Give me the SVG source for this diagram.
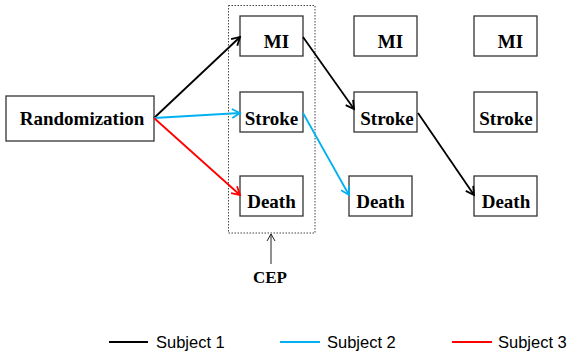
<svg xmlns="http://www.w3.org/2000/svg" width="572" height="356" viewBox="0 0 572 356">
<style>
.box{fill:#fff;stroke:#333;stroke-width:1.3}
.lbl{font-family:"Liberation Serif","Times New Roman",serif;font-weight:bold;font-size:19px;fill:#000;text-anchor:middle}
.cep{font-family:"Liberation Serif","Times New Roman",serif;font-weight:bold;font-size:17px;fill:#000;text-anchor:middle}
.leg{font-family:"Liberation Sans",Arial,sans-serif;font-size:16.5px;fill:#000}
.c{fill:none;stroke-width:1.8}
.k{stroke:#000}.b{stroke:#00B0F0}.r{stroke:#FF0000}
</style>
<defs>
<marker id="ak" markerWidth="12" markerHeight="12" refX="10" refY="6" orient="auto" markerUnits="userSpaceOnUse"><path d="M2,1.5 L10,6 L2,10.5" fill="none" stroke="#000" stroke-width="1.8"/></marker>
<marker id="ab" markerWidth="12" markerHeight="12" refX="10" refY="6" orient="auto" markerUnits="userSpaceOnUse"><path d="M2,1.5 L10,6 L2,10.5" fill="none" stroke="#00B0F0" stroke-width="1.8"/></marker>
<marker id="ar" markerWidth="12" markerHeight="12" refX="10" refY="6" orient="auto" markerUnits="userSpaceOnUse"><path d="M2,1.5 L10,6 L2,10.5" fill="none" stroke="#FF0000" stroke-width="1.8"/></marker>
<marker id="ag" markerWidth="12" markerHeight="12" refX="10" refY="6" orient="auto" markerUnits="userSpaceOnUse"><path d="M3,2 L10,6 L3,10" fill="none" stroke="#222" stroke-width="1"/></marker>
</defs>
<rect id="cep-box" x="228.5" y="5.5" width="86.5" height="227.5" fill="none" stroke="#444" stroke-width="1" stroke-dasharray="1.5,1.5"/>
<g id="randomization"><rect class="box" x="6" y="96" width="148" height="45"/><text class="lbl" x="82" y="125">Randomization</text></g>
<g id="mi1"><rect class="box" x="240" y="16" width="63" height="40"/><text class="lbl" x="276.5" y="48">MI</text></g>
<g id="stroke1"><rect class="box" x="240" y="92" width="63" height="40"/><text class="lbl" x="271.5" y="125">Stroke</text></g>
<g id="death1"><rect class="box" x="240" y="176" width="63" height="40"/><text class="lbl" x="271.5" y="208">Death</text></g>
<g id="mi2"><rect class="box" x="354" y="16" width="63" height="40"/><text class="lbl" x="390.5" y="48">MI</text></g>
<g id="stroke2"><rect class="box" x="354" y="92" width="63" height="40"/><text class="lbl" x="387" y="125">Stroke</text></g>
<g id="death2"><rect class="box" x="349" y="176" width="63" height="40"/><text class="lbl" x="380.5" y="208">Death</text></g>
<g id="mi3"><rect class="box" x="474" y="16" width="63" height="40"/><text class="lbl" x="510.5" y="48">MI</text></g>
<g id="stroke3"><rect class="box" x="474" y="92" width="63" height="40"/><text class="lbl" x="506" y="125">Stroke</text></g>
<g id="death3"><rect class="box" x="474" y="176" width="63" height="40"/><text class="lbl" x="506" y="208">Death</text></g>
<g id="cep"><text class="cep" x="270" y="283">CEP</text></g>
<g id="connectors">
<line class="c k" x1="154" y1="118" x2="240" y2="37" marker-end="url(#ak)"/>
<line class="c b" x1="154" y1="118" x2="240" y2="113" marker-end="url(#ab)"/>
<line class="c r" x1="154" y1="118" x2="240" y2="195" marker-end="url(#ar)"/>
<line class="c k" x1="303" y1="37" x2="354" y2="109" marker-end="url(#ak)"/>
<line class="c b" x1="303" y1="113" x2="349" y2="195" marker-end="url(#ab)"/>
<line class="c k" x1="418" y1="113" x2="474" y2="195" marker-end="url(#ak)"/>
<line x1="271" y1="264" x2="271" y2="234" stroke="#222" stroke-width="1" marker-end="url(#ag)"/>
</g>
<g id="legend">
<line class="c k" x1="109" y1="342" x2="148" y2="342"/><text class="leg" x="156" y="348">Subject 1</text>
<line class="c b" x1="280" y1="342" x2="320" y2="342"/><text class="leg" x="327" y="348">Subject 2</text>
<line class="c r" x1="452" y1="342" x2="492" y2="342"/><text class="leg" x="498" y="348">Subject 3</text>
</g>
</svg>
